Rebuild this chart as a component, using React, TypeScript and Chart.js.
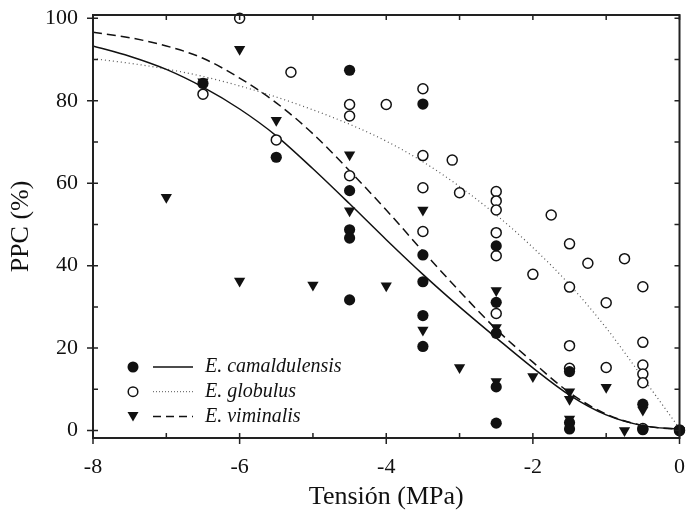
import React, { useEffect, useRef } from 'react';
import { Chart, registerables } from 'chart.js';

Chart.register(...registerables);

// ---- Data ----
const xTickValues = [-8, -6, -4, -2, 0];
const xMinorTickValues = [-7, -5, -3, -1];
const yTickValues = [0, 20, 40, 60, 80, 100];
const yMinorTickValues = [10, 30, 50, 70, 90];

const seriesNames = ['E. camaldulensis', 'E. globulus', 'E. viminalis'];
const xTitle = 'Tensión (MPa)';
const yTitle = 'PPC (%)';

// Observations (MPa, %)
const camaldulensisObs: [number, number][] = [
  [-6.5, 84.2], [-5.5, 66.3], [-4.5, 87.4], [-4.5, 58.2], [-4.5, 48.7], [-4.5, 46.7],
  [-4.5, 31.7], [-3.5, 79.2], [-3.5, 42.6], [-3.5, 36.1], [-3.5, 27.9], [-3.5, 20.4],
  [-2.5, 44.8], [-2.5, 31.1], [-2.5, 23.6], [-2.5, 10.6], [-2.5, 1.8], [-1.5, 14.3],
  [-1.5, 1.9], [-1.5, 0.4], [-0.5, 6.4], [-0.5, 0.2], [0, 0.2],
];
const globulusObs: [number, number][] = [
  [-6.5, 81.6], [-6, 100], [-5.5, 70.5], [-5.3, 86.9], [-4.5, 79.1], [-4.5, 76.3],
  [-4.5, 61.8], [-4, 79.1], [-3.5, 82.9], [-3.5, 66.7], [-3.5, 58.9], [-3.5, 48.3],
  [-3.1, 65.6], [-3.0, 57.7], [-2.5, 58.0], [-2.5, 55.7], [-2.5, 53.5], [-2.5, 48.0],
  [-2.5, 42.4], [-2.5, 28.4], [-2, 37.9], [-1.75, 52.3], [-1.5, 45.3], [-1.5, 34.8],
  [-1.5, 20.6], [-1.5, 15.1], [-1.25, 40.6], [-1.0, 31.0], [-1.0, 15.3], [-0.75, 41.7],
  [-0.5, 34.9], [-0.5, 21.4], [-0.5, 15.9], [-0.5, 13.7], [-0.5, 11.6], [-0.5, 0.5], [0, 0],
];
const viminalisObs: [number, number][] = [
  [-7, 56.6], [-6.5, 84.6], [-6, 92.5], [-6, 36.3], [-5.5, 75.3], [-5, 35.3],
  [-4.5, 66.9], [-4.5, 53.3], [-4, 35.1], [-3.5, 53.5], [-3.5, 24.4], [-3, 15.3],
  [-2.5, 34.0], [-2.5, 25.0], [-2.5, 11.9], [-2, 13.1], [-1.5, 9.4], [-1.5, 7.6],
  [-1.5, 2.8], [-1, 10.5], [-0.75, 0], [-0.5, 5.0], [0, 0],
];

// Fitted curves, read every 0.5 MPa
const curveX = [-8, -7.5, -7, -6.5, -6, -5.5, -5, -4.5, -4, -3.5, -3, -2.5, -2, -1.5, -1, -0.5, 0];
const camaldulensisFit = [93.3, 90.8, 87.6, 83.3, 78.0, 71.5, 63.5, 55.0, 46.3, 37.9, 30.0, 22.5, 15.2, 8.6, 3.8, 1.2, 0.3];
const globulusFit = [90.2, 89.1, 87.7, 85.9, 83.6, 80.9, 77.8, 74.3, 70.2, 65.2, 59.2, 52.3, 44.4, 35.4, 24.9, 12.8, 0.5];
const viminalisFit = [96.6, 95.3, 93.3, 90.3, 85.5, 79.5, 72.0, 63.0, 53.5, 43.5, 33.8, 24.6, 16.6, 9.2, 4.0, 1.2, 0.3];

const toPts = (arr: [number, number][]) => arr.map(([x, y]) => ({ x, y }));
const toCurve = (ys: number[]) => curveX.map((x, i) => ({ x, y: ys[i] }));

const SERIF = '"Liberation Serif", "DejaVu Serif", serif';
const INK = '#111';

const frameTicksPlugin = {
  id: 'frameTicks',
  afterDraw(chart: any) {
    const { ctx, chartArea } = chart;
    const xs = chart.scales.x;
    const ys = chart.scales.y;
    const { left, right, top, bottom } = chartArea;
    ctx.save();
    ctx.strokeStyle = '#222';
    ctx.lineWidth = 2;
    ctx.strokeRect(left, top, right - left, bottom - top);
    ctx.lineWidth = 1.5;
    ctx.beginPath();
    xTickValues.forEach((v) => {
      const px = xs.getPixelForValue(v);
      ctx.moveTo(px, bottom + 6); ctx.lineTo(px, bottom - 5);
      ctx.moveTo(px, top); ctx.lineTo(px, top + 5);
    });
    xMinorTickValues.forEach((v) => {
      const px = xs.getPixelForValue(v);
      ctx.moveTo(px, bottom); ctx.lineTo(px, bottom - 5);
      ctx.moveTo(px, top); ctx.lineTo(px, top + 5);
    });
    yTickValues.forEach((v) => {
      const py = ys.getPixelForValue(v);
      ctx.moveTo(left - 6, py); ctx.lineTo(left + 5, py);
      ctx.moveTo(right, py); ctx.lineTo(right - 5, py);
    });
    yMinorTickValues.forEach((v) => {
      const py = ys.getPixelForValue(v);
      ctx.moveTo(left, py); ctx.lineTo(left + 5, py);
      ctx.moveTo(right, py); ctx.lineTo(right - 5, py);
    });
    ctx.stroke();
    ctx.restore();
  },
};

const legendPlugin = {
  id: 'innerLegend',
  afterDraw(chart: any) {
    const { ctx, chartArea } = chart;
    const baseX = chartArea.left + 40;
    const baseY = chartArea.top + 352;
    const rowH = 24.7;
    ctx.save();
    ctx.font = `italic 20px ${SERIF}`;
    ctx.textBaseline = 'middle';
    ctx.fillStyle = INK;
    seriesNames.forEach((name, i) => {
      const y = baseY + i * rowH;
      const mx = baseX;
      ctx.lineWidth = 1.5;
      ctx.strokeStyle = INK;
      ctx.fillStyle = INK;
      ctx.setLineDash([]);
      if (i === 0) {
        ctx.beginPath(); ctx.arc(mx, y, 5.5, 0, Math.PI * 2); ctx.fill();
      } else if (i === 1) {
        ctx.beginPath(); ctx.arc(mx, y, 4.8, 0, Math.PI * 2);
        ctx.fillStyle = '#fff'; ctx.fill(); ctx.stroke(); ctx.fillStyle = INK;
      } else {
        ctx.beginPath();
        ctx.moveTo(mx - 5.5, y - 4.5); ctx.lineTo(mx + 5.5, y - 4.5); ctx.lineTo(mx, y + 5);
        ctx.closePath(); ctx.fill();
      }
      ctx.beginPath();
      if (i === 0) { ctx.setLineDash([]); ctx.lineWidth = 1.5; ctx.strokeStyle = INK; }
      if (i === 1) { ctx.setLineDash([1, 2]); ctx.lineWidth = 1; ctx.strokeStyle = '#555'; }
      if (i === 2) { ctx.setLineDash([8, 5]); ctx.lineWidth = 1.5; ctx.strokeStyle = INK; }
      ctx.moveTo(baseX + 20, y); ctx.lineTo(baseX + 60, y);
      ctx.stroke();
      ctx.setLineDash([]);
      ctx.fillStyle = INK;
      ctx.fillText(name, baseX + 72, y);
    });
    ctx.restore();
  },
};

export default function App() {
  const canvasRef = useRef<HTMLCanvasElement | null>(null);

  useEffect(() => {
    document.body.style.margin = '0';
    const canvas = canvasRef.current;
    if (!canvas) return;
    const chart = new Chart(canvas, {
      type: 'scatter',
      data: {
        datasets: [
          {
            label: seriesNames[0] + ' fit',
            data: toCurve(camaldulensisFit),
            showLine: true,
            pointRadius: 0,
            borderColor: INK,
            borderWidth: 1.5,
            cubicInterpolationMode: 'monotone',
            fill: false,
            order: 5,
          } as any,
          {
            label: seriesNames[1] + ' fit',
            data: toCurve(globulusFit),
            showLine: true,
            pointRadius: 0,
            borderColor: '#555',
            borderWidth: 1.2,
            borderDash: [1, 3],
            cubicInterpolationMode: 'monotone',
            fill: false,
            order: 5,
          } as any,
          {
            label: seriesNames[2] + ' fit',
            data: toCurve(viminalisFit),
            showLine: true,
            pointRadius: 0,
            borderColor: INK,
            borderWidth: 1.5,
            borderDash: [9, 5],
            cubicInterpolationMode: 'monotone',
            fill: false,
            order: 5,
          } as any,
          {
            label: seriesNames[1],
            data: toPts(globulusObs),
            pointStyle: 'circle',
            pointRadius: 5,
            backgroundColor: '#fff',
            borderColor: INK,
            borderWidth: 1.5,
            clip: false,
            order: 3,
          } as any,
          {
            label: seriesNames[0],
            data: toPts(camaldulensisObs),
            pointStyle: 'circle',
            pointRadius: 5.6,
            backgroundColor: INK,
            borderColor: INK,
            borderWidth: 0,
            clip: false,
            order: 2,
          } as any,
          {
            label: seriesNames[2],
            data: toPts(viminalisObs),
            pointStyle: 'triangle',
            rotation: 180,
            pointRadius: 6.5,
            backgroundColor: INK,
            borderColor: INK,
            borderWidth: 0,
            clip: false,
            order: 1,
          } as any,
        ],
      },
      options: {
        animation: false,
        responsive: true,
        maintainAspectRatio: false,
        layout: { padding: { top: 15, right: 0, left: 0, bottom: 0 } },
        plugins: { legend: { display: false }, tooltip: { enabled: false } },
        scales: {
          x: {
            type: 'linear',
            min: -8,
            max: 0,
            afterBuildTicks: (s: any) => { s.ticks = xTickValues.map((v) => ({ value: v })); },
            afterFit: (s: any) => {
              s.height = 76;
              s.paddingLeft = 0; s.paddingRight = 0; s.paddingTop = 0; s.paddingBottom = 0;
            },
            grid: { display: false, drawTicks: false },
            border: { display: false },
            ticks: {
              color: INK,
              font: { family: SERIF, size: 22 },
              padding: 16,
              maxRotation: 0,
              callback: (v: any) => String(v),
            },
            title: {
              display: true,
              text: xTitle,
              color: INK,
              font: { family: SERIF, size: 26 },
              padding: { top: 0, bottom: 1 },
            },
          },
          y: {
            type: 'linear',
            min: -1.8,
            max: 100.8,
            afterBuildTicks: (s: any) => { s.ticks = yTickValues.map((v) => ({ value: v })); },
            afterFit: (s: any) => {
              s.width = 93;
              s.paddingLeft = 0; s.paddingRight = 0; s.paddingTop = 0; s.paddingBottom = 0;
            },
            grid: { display: false, drawTicks: false },
            border: { display: false },
            ticks: {
              color: INK,
              font: { family: SERIF, size: 22 },
              padding: 15,
              callback: (v: any) => String(v),
            },
            title: {
              display: true,
              text: yTitle,
              color: INK,
              font: { family: SERIF, size: 26 },
              padding: { top: 6, bottom: 0 },
            },
          },
        },
      },
      plugins: [frameTicksPlugin, legendPlugin],
    });
    return () => chart.destroy();
  }, []);

  return (
    <div style={{ position: 'relative', width: 686, height: 514, background: '#fff' }}>
      <canvas ref={canvasRef} />
    </div>
  );
}
